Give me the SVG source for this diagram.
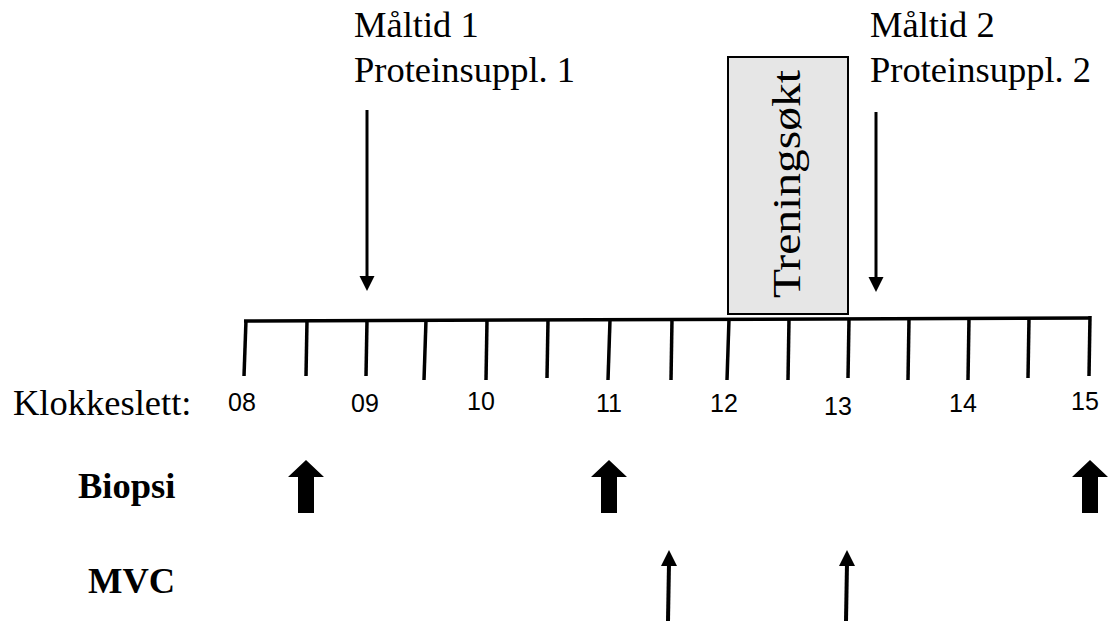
<svg xmlns="http://www.w3.org/2000/svg" width="1109" height="621" viewBox="0 0 1109 621">
<style>
.serif{font-family:"Liberation Serif","Times New Roman",serif;font-size:36.5px;fill:#000}
.bold{font-weight:bold}
.num{font-family:"Liberation Sans",Arial,sans-serif;font-size:25px;fill:#000;text-anchor:middle}
.tick{stroke:#000;stroke-width:3.5;stroke-linecap:butt}
.thin{stroke:#000;stroke-width:3;fill:none}
.big{fill:#000}
</style>
<defs>
<marker id="ah" viewBox="0 0 10 10" refX="10" refY="5" markerWidth="5" markerHeight="5" markerUnits="strokeWidth" orient="auto">
<path d="M0,0 L10,5 L0,10 z" fill="#000"/>
</marker>
</defs>
<rect width="1109" height="621" fill="#fff"/>

<g id="timeline">
<line class="tick" x1="244" y1="321" x2="1091" y2="318"/>
<line class="tick" x1="246" y1="320" x2="244" y2="376"/>
<line class="tick" x1="307" y1="320" x2="306" y2="376"/>
<line class="tick" x1="367" y1="320" x2="366" y2="376"/>
<line class="tick" x1="426" y1="320" x2="424" y2="380"/>
<line class="tick" x1="487" y1="320" x2="486" y2="380"/>
<line class="tick" x1="548" y1="320" x2="547" y2="378"/>
<line class="tick" x1="610" y1="320" x2="608" y2="380"/>
<line class="tick" x1="672" y1="319" x2="671" y2="380"/>
<line class="tick" x1="729" y1="319" x2="727" y2="380"/>
<line class="tick" x1="789" y1="319" x2="788" y2="380"/>
<line class="tick" x1="849" y1="319" x2="848" y2="378"/>
<line class="tick" x1="909" y1="319" x2="908" y2="380"/>
<line class="tick" x1="969" y1="318" x2="968" y2="380"/>
<line class="tick" x1="1029" y1="318" x2="1028" y2="378"/>
<line class="tick" x1="1090" y1="316" x2="1089" y2="376"/>
</g>

<g id="hours">
<text class="num" x="242" y="411">08</text>
<text class="num" x="365" y="412">09</text>
<text class="num" x="481" y="410">10</text>
<text class="num" x="609" y="412">11</text>
<text class="num" x="724" y="412">12</text>
<text class="num" x="838" y="415">13</text>
<text class="num" x="963" y="412">14</text>
<text class="num" x="1085" y="410">15</text>
</g>

<g id="treningsokt">
<rect x="728" y="57" width="120" height="257" fill="#e6e6e6" stroke="#000" stroke-width="2"/>
<text class="serif" font-size="41" transform="translate(800,298) rotate(-90)" textLength="228" lengthAdjust="spacingAndGlyphs" style="font-size:41px">Treningsøkt</text>
</g>

<g id="maltid1">
<text class="serif" x="354" y="37">Måltid 1</text>
<text class="serif" x="354" y="82">Proteinsuppl. 1</text>
</g>

<g id="maltid2">
<text class="serif" x="870" y="37">Måltid 2</text>
<text class="serif" x="870" y="82">Proteinsuppl. 2</text>
</g>

<g id="labels">
<text class="serif" x="13" y="415">Klokkeslett:</text>
<text class="serif bold" x="78" y="498">Biopsi</text>
<text class="serif bold" x="88" y="593">MVC</text>
</g>

<g id="connectors">
<line class="thin" x1="367" y1="110" x2="367" y2="277"/>
<path d="M359.5,276 L374.5,276 L367,291 z" fill="#000"/>
<line class="thin" x1="876" y1="112" x2="876" y2="278"/>
<path d="M868.5,277 L883.5,277 L876,292 z" fill="#000"/>

<path class="big" d="M306,460 L324,477 L314,477 L314,513 L298,513 L298,477 L288,477 z"/>
<path class="big" d="M609,460 L627,477 L617,477 L617,513 L601,513 L601,477 L591,477 z"/>
<path class="big" d="M1090,460 L1108,477 L1098,477 L1098,513 L1082,513 L1082,477 L1072,477 z"/>

<line x1="669" y1="563" x2="668" y2="621" stroke="#000" stroke-width="4"/>
<path d="M669,550 L677,566 L661,566 z" fill="#000"/>
<line x1="847" y1="563" x2="846" y2="621" stroke="#000" stroke-width="4"/>
<path d="M847,550 L855,566 L839,566 z" fill="#000"/>
</g>
</svg>
